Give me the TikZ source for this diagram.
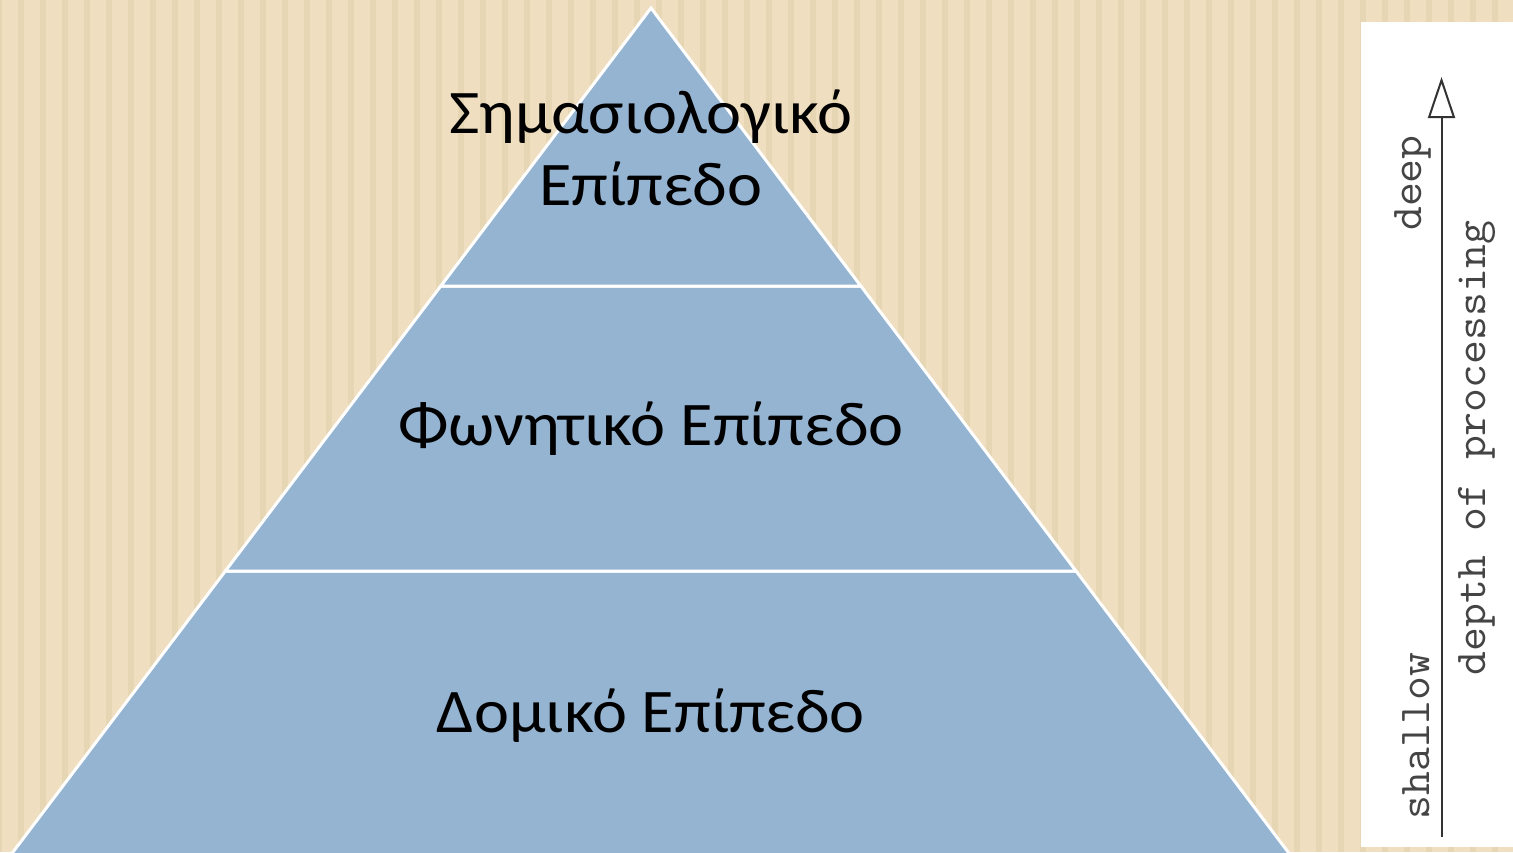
\documentclass[tikz,border=0pt]{standalone}
\usepackage{fontspec}
\setmainfont{Carlito}
\usetikzlibrary{arrows.meta}
\definecolor{bgbeige}{HTML}{EFDFC0}
\definecolor{stripe}{HTML}{E6D6B3}
\definecolor{pyrblue}{HTML}{95B4D2}
\definecolor{arrowgray}{HTML}{333333}
\definecolor{labelgray}{HTML}{444444}
\newcommand{\lvltxt}[1]{\scalebox{1.07}[1]{#1}}
\newcommand{\sidetxt}[1]{\scalebox{1.055}[1]{#1}}
\tikzset{
  level/.style={fill=pyrblue, draw=white, line width=3pt, line join=miter},
  leveltext/.style={font=\fontsize{62}{72}\selectfont, text=black, inner sep=0pt, anchor=base},
  sidelabel/.style={font=\ttfamily\fontsize{44}{44}\selectfont, text=labelgray, rotate=90, inner sep=0pt},
}
\begin{document}
\begin{tikzpicture}[x=1pt, y=-1pt]
\useasboundingbox (0,0) rectangle (1513,852);
\fill[bgbeige] (0,0) rectangle (1513,852);
\foreach \k in {-1,0,...,68} {
  \fill[stripe] ({18+22*\k},0) rectangle ({24+22*\k},852);
}
\begin{scope}
\clip (0,0) rectangle (1513,852);
\draw[level] (-0.6,870) -- (225.4,571) -- (1076,571) -- (1301.6,870) -- cycle;
\draw[level] (225.4,571) -- (440.8,286) -- (860.8,286) -- (1076,571) -- cycle;
\draw[level] (440.8,286) -- (651,8) -- (860.8,286) -- cycle;
\end{scope}
\node[leveltext] (top1) at (651,133) {\lvltxt{Σημασιολογικό}};
\node[leveltext] (top2) at (651,205) {\lvltxt{Επίπεδο}};
\node[leveltext] (mid) at (651,445) {\lvltxt{Φωνητικό Επίπεδο}};
\node[leveltext] (bot) at (651,732) {\lvltxt{Δομικό Επίπεδο}};
\fill[white] (1361,22) rectangle (1513,847);
\coordinate (arrbot) at (1441.5,837);
\coordinate (arrtop) at (1441.5,77);
\draw[arrowgray, line width=2pt, -{Triangle[open, length=41pt, width=27pt, fill=white]}] (arrbot) -- (arrtop);
\node[sidelabel] (deep) at (1413,183) {\sidetxt{deep}};
\node[sidelabel] (shallow) at (1416,736) {\sidetxt{shallow}};
\node[sidelabel] (depth) at (1477,448) {\sidetxt{depth of processing}};
\end{tikzpicture}
\end{document}
